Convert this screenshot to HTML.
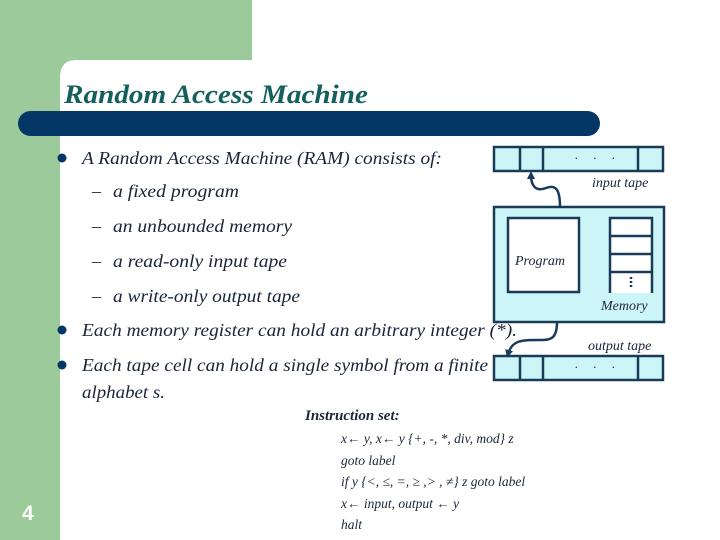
<!DOCTYPE html>
<html><head><meta charset="utf-8"><style>
html,body{margin:0;padding:0;background:#fff}
svg{display:block}
text{font-family:"Liberation Serif",serif;font-style:italic;fill:#1a2538}
</style></head><body>
<svg width="720" height="540" viewBox="0 0 720 540" xmlns="http://www.w3.org/2000/svg">
<defs>
<marker id="ah" markerWidth="8" markerHeight="8" refX="4" refY="4" orient="auto" markerUnits="userSpaceOnUse">
<path d="M0,0 L8,4 L0,8 z" fill="#1a3a5a"/></marker>
</defs>
<rect x="0" y="0" width="720" height="540" fill="#fff"/>
<rect x="0" y="0" width="252" height="60" fill="#9dca9a"/>
<rect x="0" y="0" width="60" height="540" fill="#9dca9a"/>
<path d="M60,60 L60,75 Q60,60 75,60 Z" fill="#9dca9a"/>
<path d="M75,58 L252,58 L252,60 L75,60 Q62,60 60,75 L60,58 Z" fill="#9dca9a"/>
<text x="64" y="103" font-size="26" font-weight="bold" textLength="304" lengthAdjust="spacingAndGlyphs" style="fill:#13605c">Random Access Machine</text>
<rect x="18" y="111" width="582" height="25" rx="12.5" fill="#053766"/>
<g fill="#053766">
<circle cx="62" cy="158" r="4.5"/><circle cx="62" cy="330" r="4.5"/><circle cx="62" cy="365" r="4.5"/>
</g>
<g font-size="18">
<text x="82" y="164" textLength="360" lengthAdjust="spacingAndGlyphs">A Random Access Machine (RAM) consists of:</text>
<text x="92" y="197">–</text><text x="113" y="197" textLength="126" lengthAdjust="spacingAndGlyphs">a fixed program</text>
<text x="92" y="232">–</text><text x="113" y="232" textLength="179" lengthAdjust="spacingAndGlyphs">an unbounded memory</text>
<text x="92" y="267">–</text><text x="113" y="267" textLength="174" lengthAdjust="spacingAndGlyphs">a read-only input tape</text>
<text x="92" y="302">–</text><text x="113" y="302" textLength="187" lengthAdjust="spacingAndGlyphs">a write-only output tape</text>
<text x="82" y="336" textLength="435" lengthAdjust="spacingAndGlyphs">Each memory register can hold an arbitrary integer (*).</text>
<text x="82" y="371" textLength="406" lengthAdjust="spacingAndGlyphs">Each tape cell can hold a single symbol from a finite</text>
<text x="82" y="398" textLength="83" lengthAdjust="spacingAndGlyphs">alphabet s.</text>
</g>
<g stroke="#1a3a5a" stroke-width="2.5" fill="#ccf5f8">
<rect x="494" y="147" width="169" height="24"/>
<line x1="520" y1="147" x2="520" y2="171"/><line x1="543" y1="147" x2="543" y2="171"/><line x1="638" y1="147" x2="638" y2="171"/>
<rect x="494" y="207" width="170" height="115"/>
<rect x="508" y="218" width="71" height="74" fill="#fff"/>
<rect x="494" y="356" width="169" height="24"/>
<line x1="520" y1="356" x2="520" y2="380"/><line x1="543" y1="356" x2="543" y2="380"/><line x1="638" y1="356" x2="638" y2="380"/>
</g>
<g stroke="#1a3a5a" stroke-width="2.5" fill="none">
<rect x="610" y="218" width="42" height="75" fill="#fff" stroke="none"/>
<path d="M610,293 L610,218 L652,218 L652,293"/>
<line x1="610" y1="236" x2="652" y2="236"/><line x1="610" y1="254" x2="652" y2="254"/><line x1="610" y1="272" x2="652" y2="272"/>
<line x1="631" y1="277" x2="631" y2="289" stroke-dasharray="2,2"/>
<path d="M560,207 C560,190 556,184 546,188 C536,192 531,186 531,175" marker-end="url(#ah)"/>
<path d="M557,322 C557,340 550,340 538,340 C522,340 512,340 508,354" marker-end="url(#ah)"/>
</g>
<g font-size="13" style="fill:#111">
<text x="575" y="159" letter-spacing="6">. . .</text>
<text x="575" y="368" letter-spacing="6">. . .</text>
</g>
<g font-size="14">
<text x="592" y="187">input tape</text>
<text x="515" y="265">Program</text>
<text x="601" y="310">Memory</text>
<text x="588" y="350">output tape</text>
</g>
<text x="305" y="420" font-size="15" font-weight="bold">Instruction set:</text>
<g font-size="13.5">
<text x="341" y="443">x← y, x← y {+, -, *, div, mod} z</text>
<text x="341" y="465">goto label</text>
<text x="341" y="486">if y {&lt;,  ≤, =, ≥ ,&gt; , ≠} z goto label</text>
<text x="341" y="508">x← input, output ← y</text>
<text x="341" y="529">halt</text>
</g>
<text x="22" y="520" font-size="21" font-weight="bold" style="font-family:'Liberation Sans',sans-serif;font-style:normal;fill:#fff">4</text>
</svg>
</body></html>
